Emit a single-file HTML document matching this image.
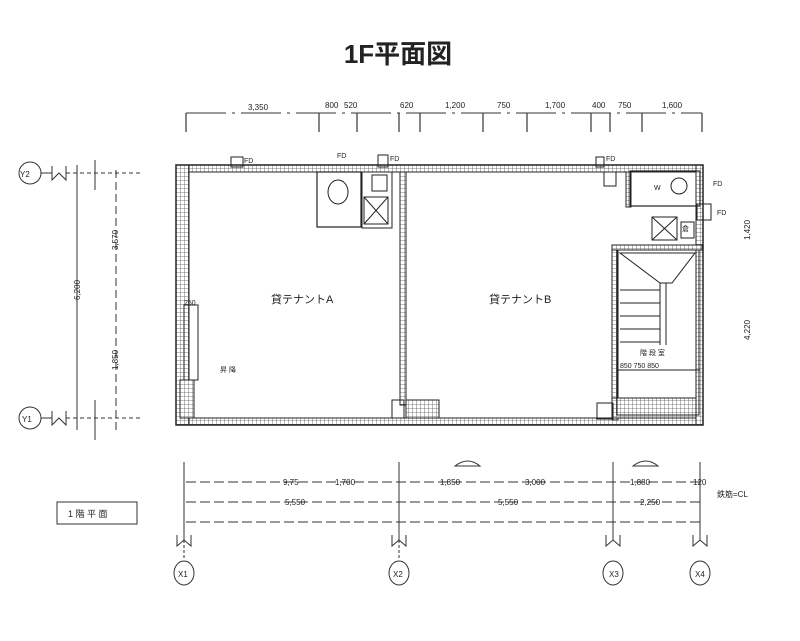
<!DOCTYPE html>
<html><head><meta charset="utf-8"><style>
html,body{margin:0;padding:0;background:#fff;width:800px;height:641px;overflow:hidden}
svg{display:block}
text{font-family:"Liberation Sans","Noto Sans CJK JP",sans-serif;fill:#222}
</style></head><body>
<svg width="800" height="641" viewBox="0 0 800 641" xmlns="http://www.w3.org/2000/svg">
<defs>
<pattern id="h" width="4" height="4" patternUnits="userSpaceOnUse">
<rect width="4" height="4" fill="#fff"/><path d="M0,0 L4,0 M0,0 L0,4" stroke="#555" stroke-width="0.8"/>
</pattern>
</defs>
<rect width="800" height="641" fill="#fff"/>
<text x="398" y="63" font-size="26" font-weight="bold" text-anchor="middle" fill="#000">1F平面図</text>

<g stroke="#333" stroke-width="1" fill="none">
<line x1="186" y1="113" x2="702" y2="113" stroke-dasharray="40 6 3 6"/>
<g stroke-width="1.2">
<line x1="186" y1="113" x2="186" y2="132"/><line x1="319" y1="113" x2="319" y2="132"/>
<line x1="357" y1="113" x2="357" y2="132"/><line x1="399" y1="113" x2="399" y2="132"/>
<line x1="420" y1="113" x2="420" y2="132"/><line x1="483" y1="113" x2="483" y2="132"/>
<line x1="527" y1="113" x2="527" y2="132"/><line x1="591" y1="113" x2="591" y2="132"/>
<line x1="610" y1="113" x2="610" y2="132"/><line x1="642" y1="113" x2="642" y2="132"/>
<line x1="702" y1="113" x2="702" y2="132"/>
</g></g>
<g font-size="8" fill="#444">
<text x="248" y="110">3,350</text><text x="325" y="108">800</text><text x="344" y="108">520</text>
<text x="400" y="108">620</text><text x="445" y="108">1,200</text><text x="497" y="108">750</text>
<text x="545" y="108">1,700</text><text x="592" y="108">400</text><text x="618" y="108">750</text><text x="662" y="108">1,600</text>
</g>

<!-- hatched walls -->
<g fill="url(#h)" stroke="#222" stroke-width="1">
<rect x="176" y="165" width="527" height="7"/>
<rect x="176" y="418" width="527" height="7"/>
<rect x="176" y="165" width="13" height="260"/>
<rect x="696" y="165" width="7" height="260"/>
<rect x="400" y="172" width="6" height="233"/>
<rect x="612" y="245" width="6" height="175"/>
<rect x="612" y="245" width="90" height="5"/>
<rect x="180" y="380" width="14" height="38"/>
<rect x="612" y="398" width="84" height="20"/>
<rect x="406" y="400" width="33" height="18"/>
<rect x="626" y="172" width="5" height="35"/>
</g>
<g fill="none" stroke="#222">
<rect x="176" y="165" width="527" height="260" stroke-width="1.5"/>
<rect x="317" y="172" width="44" height="55" stroke-width="1.2"/>
<rect x="362" y="172" width="30" height="56" stroke-width="1"/>
<rect x="372" y="175" width="15" height="16" stroke-width="1"/>
<rect x="364" y="197" width="24" height="27" stroke-width="1"/>
<line x1="364" y1="197" x2="388" y2="224"/><line x1="388" y1="197" x2="364" y2="224"/>
<ellipse cx="338" cy="192" rx="10" ry="12"/>
<rect x="630" y="171" width="70" height="35" stroke-width="1.2"/>
<circle cx="679" cy="186" r="8"/>
<rect x="652" y="217" width="25" height="23"/>
<line x1="652" y1="217" x2="677" y2="240"/><line x1="677" y1="217" x2="652" y2="240"/>
<rect x="681" y="222" width="13" height="16"/>
<rect x="697" y="204" width="14" height="16"/>
<rect x="617" y="250" width="82" height="165"/>
<polygon points="620,253 695,253 672,283 660,283" />
<line x1="660" y1="283" x2="660" y2="345"/><line x1="666" y1="283" x2="666" y2="345"/>
<line x1="620" y1="290" x2="660" y2="290"/><line x1="620" y1="303" x2="660" y2="303"/>
<line x1="620" y1="316" x2="660" y2="316"/><line x1="620" y1="329" x2="660" y2="329"/>
<line x1="620" y1="342" x2="660" y2="342"/>
<line x1="618" y1="370" x2="700" y2="370"/>
<rect x="184" y="305" width="14" height="75"/>
<rect x="392" y="400" width="12" height="18"/>
<rect x="597" y="403" width="16" height="16"/>
<rect x="231" y="157" width="12" height="10"/><rect x="378" y="155" width="10" height="12"/>
<rect x="596" y="157" width="8" height="10"/><rect x="604" y="172" width="12" height="14"/>
</g>
<g font-size="7" fill="#333">
<text x="337" y="158">FD</text><text x="390" y="161">FD</text><text x="244" y="163">FD</text>
<text x="606" y="161">FD</text><text x="713" y="186">FD</text><text x="717" y="215">FD</text>
<text x="654" y="190">W</text><text x="682" y="231">倉</text>
<text x="640" y="355">階 段 室</text>
<text x="620" y="368">850  750  850</text>
<text x="220" y="372">昇 降</text>
<text x="184" y="305">250</text>
</g>
<text x="271" y="303" font-size="11" fill="#111">貸テナントA</text>
<text x="489" y="303" font-size="11" fill="#111">貸テナントB</text>

<g stroke="#333" fill="none" stroke-width="1">
<circle cx="30" cy="173" r="11"/><circle cx="30" cy="418" r="11"/>
<line x1="41" y1="173" x2="52" y2="173"/><line x1="41" y1="418" x2="52" y2="418"/>
<path d="M52,166 L52,180 L59,173 L66,180 L66,166"/>
<path d="M52,411 L52,425 L59,418 L66,425 L66,411"/>
<line x1="66" y1="173" x2="140" y2="173" stroke-dasharray="4 3"/>
<line x1="66" y1="418" x2="140" y2="418" stroke-dasharray="4 3"/>
<line x1="77" y1="165" x2="77" y2="430"/>
<line x1="116" y1="170" x2="116" y2="430" stroke-dasharray="8 4"/>
<line x1="95" y1="160" x2="95" y2="190"/><line x1="95" y1="400" x2="95" y2="440"/>
</g>
<g font-size="8" fill="#444">
<text x="20" y="177">Y2</text><text x="22" y="422">Y1</text>
<text x="118" y="250" transform="rotate(-90 118 250)">3,570</text>
<text x="80" y="300" transform="rotate(-90 80 300)">6,200</text>
<text x="118" y="370" transform="rotate(-90 118 370)">1,850</text>
<text x="750" y="240" transform="rotate(-90 750 240)">1,420</text>
<text x="750" y="340" transform="rotate(-90 750 340)">4,220</text>
</g>

<g stroke="#333" fill="none" stroke-width="1">
<line x1="186" y1="482" x2="702" y2="482" stroke-dasharray="10 4"/>
<line x1="186" y1="502" x2="702" y2="502" stroke-dasharray="10 4"/>
<line x1="186" y1="522" x2="702" y2="522" stroke-dasharray="10 4"/>
<line x1="184" y1="462" x2="184" y2="540"/><line x1="399" y1="462" x2="399" y2="540"/>
<line x1="613" y1="462" x2="613" y2="540"/><line x1="700" y1="462" x2="700" y2="540"/>
<line x1="184" y1="540" x2="184" y2="560" stroke-dasharray="3 2"/>
<line x1="399" y1="540" x2="399" y2="560" stroke-dasharray="3 2"/>
<path d="M177,535 L177,546 L184,540 L191,546 L191,535"/>
<path d="M392,535 L392,546 L399,540 L406,546 L406,535"/>
<path d="M606,535 L606,546 L613,540 L620,546 L620,535"/>
<path d="M693,535 L693,546 L700,540 L707,546 L707,535"/>
<ellipse cx="184" cy="573" rx="10" ry="12"/><ellipse cx="399" cy="573" rx="10" ry="12"/>
<ellipse cx="613" cy="573" rx="10" ry="12"/><ellipse cx="700" cy="573" rx="10" ry="12"/>
<rect x="57" y="502" width="80" height="22"/>
<path d="M455,466 Q468,456 480,466 Z"/><path d="M633,466 Q646,456 658,466 Z"/>
</g>
<g font-size="8" fill="#444">
<text x="178" y="577">X1</text><text x="393" y="577">X2</text><text x="609" y="577">X3</text><text x="695" y="577">X4</text>
<text x="283" y="485">9,75</text><text x="335" y="485">1,700</text><text x="440" y="485">1,850</text>
<text x="525" y="485">3,000</text><text x="630" y="485">1,880</text><text x="693" y="485">120</text>
<text x="285" y="505">5,550</text><text x="498" y="505">5,550</text><text x="640" y="505">2,250</text>
<text x="717" y="497">鉄筋=CL</text>
<text x="68" y="517" font-size="9">1  階 平 面</text>
</g>
</svg>
</body></html>
